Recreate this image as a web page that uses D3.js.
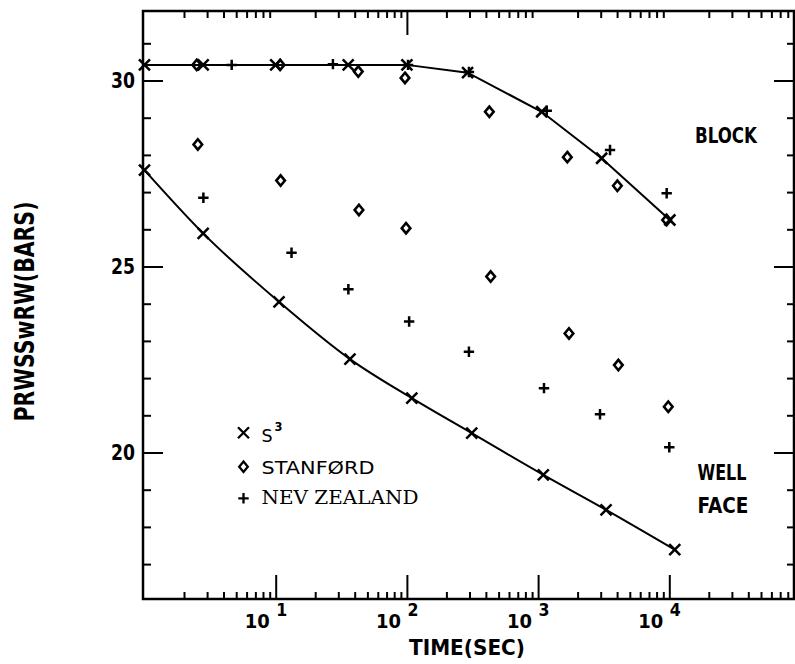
<!DOCTYPE html>
<html>
<head>
<meta charset="utf-8">
<script src="https://cdn.jsdelivr.net/npm/d3@7"></script>
<style>
  body { margin: 0; background: #fff; }
  svg { display: block; }
</style>
</head>
<body>
<svg id="chart" width="795" height="664"></svg>
<script>
// ---------------- data ----------------
const s3BlockTime      = [1, 2.8, 10, 35.7, 100, 290, 1065, 3050, 10100];
const s3BlockPressure  = [30.42, 30.42, 30.42, 30.42, 30.42, 30.21, 29.16, 27.91, 26.25];
const s3WellTime       = [1, 2.8, 10.6, 36.8, 109, 312, 1096, 3296, 11000];
const s3WellPressure   = [27.59, 25.89, 24.05, 22.51, 21.46, 20.52, 19.40, 18.46, 17.39];

const stanfordBlockTime     = [2.5, 10.8, 42.6, 96.7, 425, 1670, 4020, 9550];
const stanfordBlockPressure = [30.42, 30.42, 30.24, 30.07, 29.16, 27.94, 27.17, 26.25];
const stanfordWellTime      = [2.55, 10.9, 43.1, 98.5, 435, 1720, 4090, 9820];
const stanfordWellPressure  = [28.28, 27.31, 26.52, 26.03, 24.73, 23.20, 22.35, 21.23];

const nzBlockTime     = [4.62, 27.3, 102, 297, 1164, 3533, 9550];
const nzBlockPressure = [30.42, 30.44, 30.42, 30.23, 29.19, 28.13, 26.97];
const nzWellTime      = [2.81, 13.2, 35.8, 104, 297, 1109, 2964, 10000];
const nzWellPressure  = [26.85, 25.37, 24.39, 23.52, 22.71, 21.73, 21.03, 20.14];

const xMajorTicks   = [10, 100, 1000, 10000];
const xTickBase     = ["10", "10", "10", "10"];
const xTickExp      = ["1", "2", "3", "4"];
const xTopLongTicks = [100];
const yMajorTicks   = [20, 25, 30];
const yTickLabels   = ["20", "25", "30"];
const yMinorTicks   = [17, 18, 19, 21, 22, 23, 24, 26, 27, 28, 29, 31];

const legendLabels = ["S", "STANFØRD", "NEV ZEALAND"];
const legendSymbols = ["x", "diamond", "plus"];

// ---------------- layout ----------------
const F = { left: 143, right: 794, top: 11, bottom: 599 };
const svg = d3.select("#chart");
const x = d3.scaleLog().domain([1, 1e5]).range([144.5, 800.5]);
const y = d3.scaleLinear().domain([20, 30]).range([452.5, 80.5]);

const xMinorTicks = [];
for (let k = 0; k <= 4; k++) for (let m = 2; m <= 9; m++) {
  const v = m * Math.pow(10, k);
  if (x(v) < F.right - 1) xMinorTicks.push(v);
}

const boldFont = "'DejaVu Sans', sans-serif";

function styleAxis(g, sw) {
  g.select(".domain").remove();
  g.selectAll(".tick line").attr("stroke", "#000").attr("stroke-width", sw);
  g.selectAll(".tick text").remove();
}

// bottom axis (ticks point up)
svg.append("g").attr("transform", `translate(0,${F.bottom})`)
  .call(d3.axisTop(x).tickValues(xMajorTicks).tickSize(24).tickFormat(""))
  .call(g => styleAxis(g, 2));
svg.append("g").attr("transform", `translate(0,${F.bottom})`)
  .call(d3.axisTop(x).tickValues(xMinorTicks).tickSize(7).tickFormat(""))
  .call(g => styleAxis(g, 2));
// top axis (ticks point down)
svg.append("g").attr("transform", `translate(0,${F.top})`)
  .call(d3.axisBottom(x).tickValues(xTopLongTicks).tickSize(24).tickFormat(""))
  .call(g => styleAxis(g, 2));
svg.append("g").attr("transform", `translate(0,${F.top})`)
  .call(d3.axisBottom(x).tickValues(xMinorTicks).tickSize(7).tickFormat(""))
  .call(g => styleAxis(g, 2));
// left axis (ticks point right)
svg.append("g").attr("transform", `translate(${F.left},0)`)
  .call(d3.axisRight(y).tickValues(yMajorTicks).tickSize(20).tickFormat(""))
  .call(g => styleAxis(g, 2));
svg.append("g").attr("transform", `translate(${F.left},0)`)
  .call(d3.axisRight(y).tickValues(yMinorTicks).tickSize(8).tickFormat(""))
  .call(g => styleAxis(g, 2));
// right axis (ticks point left)
svg.append("g").attr("transform", `translate(${F.right},0)`)
  .call(d3.axisLeft(y).tickValues(yMajorTicks).tickSize(20).tickFormat(""))
  .call(g => styleAxis(g, 2));
svg.append("g").attr("transform", `translate(${F.right},0)`)
  .call(d3.axisLeft(y).tickValues(yMinorTicks).tickSize(7).tickFormat(""))
  .call(g => styleAxis(g, 2));

// frame
svg.append("rect")
  .attr("x", F.left).attr("y", F.top)
  .attr("width", F.right - F.left).attr("height", F.bottom - F.top)
  .attr("fill", "none").attr("stroke", "#000").attr("stroke-width", 2.5);

// x tick labels: "10" with raised exponent
xMajorTicks.forEach((v, i) => {
  svg.append("text")
    .attr("x", x(v) - 31).attr("y", 628)
    .attr("textLength", 25).attr("lengthAdjust", "spacingAndGlyphs")
    .attr("font-family", boldFont).attr("font-weight", "bold").attr("font-size", 20)
    .text(xTickBase[i]);
  svg.append("text")
    .attr("x", x(v) + 0.5).attr("y", 616)
    .attr("textLength", 11).attr("lengthAdjust", "spacingAndGlyphs")
    .attr("font-family", boldFont).attr("font-weight", "bold").attr("font-size", 18)
    .text(xTickExp[i]);
});

// y tick labels
yMajorTicks.forEach((v, i) => {
  svg.append("text")
    .attr("x", 135).attr("y", y(v) + 7.5)
    .attr("text-anchor", "end")
    .attr("textLength", 24).attr("lengthAdjust", "spacingAndGlyphs")
    .attr("font-family", boldFont).attr("font-weight", "bold").attr("font-size", 20.5)
    .text(yTickLabels[i]);
});

// axis titles
svg.append("text")
  .attr("x", 409).attr("y", 655)
  .attr("textLength", 116).attr("lengthAdjust", "spacingAndGlyphs")
  .attr("font-family", boldFont).attr("font-weight", "bold").attr("font-size", 20.5)
  .text("TIME(SEC)");
svg.append("text")
  .attr("transform", "translate(33.5,421.5) rotate(-90)")
  .attr("textLength", 220).attr("lengthAdjust", "spacingAndGlyphs")
  .attr("font-family", boldFont).attr("font-weight", "bold").attr("font-size", 26)
  .text("PRWSSwRW(BARS)");

// region labels
function label(txt, px, py, len, fs) {
  svg.append("text").attr("x", px).attr("y", py)
    .attr("textLength", len).attr("lengthAdjust", "spacingAndGlyphs")
    .attr("font-family", boldFont).attr("font-weight", "bold").attr("font-size", fs)
    .text(txt);
}
label("BLOCK", 695, 143, 62, 20.5);
label("WELL", 697.5, 479.5, 49, 21.5);
label("FACE", 697.5, 512.5, 51, 21.5);

// ---------------- marks ----------------
function zip(ts, ps) { return ts.map((t, i) => ({ t, p: ps[i] })); }
const s3Block = zip(s3BlockTime, s3BlockPressure);
const s3Well = zip(s3WellTime, s3WellPressure);
const stBlock = zip(stanfordBlockTime, stanfordBlockPressure);
const stWell = zip(stanfordWellTime, stanfordWellPressure);
const nzBlock = zip(nzBlockTime, nzBlockPressure);
const nzWell = zip(nzWellTime, nzWellPressure);

svg.append("path").datum(s3Block)
  .attr("d", d3.line().x(d => x(d.t)).y(d => y(d.p)))
  .attr("fill", "none").attr("stroke", "#000").attr("stroke-width", 2);
svg.append("path").datum(s3Well)
  .attr("d", d3.line().x(d => x(d.t)).y(d => y(d.p)).curve(d3.curveMonotoneX))
  .attr("fill", "none").attr("stroke", "#000").attr("stroke-width", 2);

function symPath(kind) {
  if (kind === "x") { const s = 5.5; return `M${-s},${-s}L${s},${s}M${-s},${s}L${s},${-s}`; }
  if (kind === "plus") { const s = 5.2; return `M${-s},0L${s},0M0,${-s}L0,${s}`; }
  const w = 4.3, h = 5.2; return `M0,${-h}L${w},0L0,${h}L${-w},0Z`;
}
function drawMarks(data, kind) {
  svg.append("g").selectAll("path").data(data).join("path")
    .attr("transform", d => `translate(${x(d.t)},${y(d.p)})`)
    .attr("d", symPath(kind))
    .attr("fill", "none").attr("stroke", "#000")
    .attr("stroke-width", kind === "diamond" ? 2.6 : 2.5);
}
drawMarks(s3Block, "x");
drawMarks(s3Well, "x");
drawMarks(stBlock, "diamond");
drawMarks(stWell, "diamond");
drawMarks(nzBlock, "plus");
drawMarks(nzWell, "plus");

// ---------------- legend ----------------
const legY = [432.7, 466.7, 498.3];
legendSymbols.forEach((k, i) => {
  svg.append("path")
    .attr("transform", `translate(243.5,${legY[i]})`)
    .attr("d", symPath(k))
    .attr("fill", "none").attr("stroke", "#000").attr("stroke-width", 2.3);
});
svg.append("text").attr("x", 261.5).attr("y", 442)
  .attr("font-family", "'DejaVu Sans', sans-serif").attr("font-size", 17.5)
  .text(legendLabels[0])
  .append("tspan").attr("dx", 2).attr("dy", -11).attr("font-size", 11.5).attr("font-weight", "bold").text("3");
svg.append("text").attr("x", 261.5).attr("y", 473.5)
  .attr("textLength", 113).attr("lengthAdjust", "spacingAndGlyphs")
  .attr("font-family", "'DejaVu Sans', sans-serif").attr("font-size", 18)
  .text(legendLabels[1]);
svg.append("text").attr("x", 261.5).attr("y", 504)
  .attr("textLength", 157).attr("lengthAdjust", "spacingAndGlyphs")
  .attr("font-family", "'DejaVu Serif', serif").attr("font-size", 18)
  .text(legendLabels[2]);
</script>
</body>
</html>
